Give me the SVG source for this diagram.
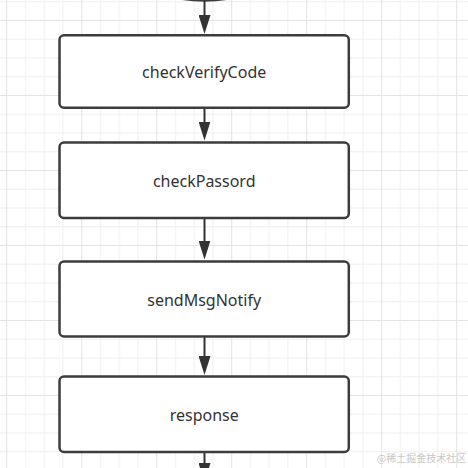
<svg xmlns="http://www.w3.org/2000/svg" width="468" height="468" viewBox="0 0 468 468">
<style>
.node rect{fill:#fff;stroke:#3c3c3c;stroke-width:2.5}
.node text{font-family:"Noto Sans","Liberation Sans",sans-serif;font-size:16px;fill:#333;text-anchor:middle}
.conn line{stroke:#333;stroke-width:2;marker-end:url(#arr)}
.wm{font-family:"Noto Sans CJK SC","Noto Sans",sans-serif;font-size:10px;fill:#c8c8c8}
</style>
<defs>
<pattern id="grid" x="6.2" y="19.95" width="75" height="75" patternUnits="userSpaceOnUse">
<g stroke="#efefef" stroke-width="1">
<line x1="19.25" y1="0" x2="19.25" y2="75"/>
<line x1="38" y1="0" x2="38" y2="75"/>
<line x1="56.75" y1="0" x2="56.75" y2="75"/>
<line x1="0" y1="19.25" x2="75" y2="19.25"/>
<line x1="0" y1="38" x2="75" y2="38"/>
<line x1="0" y1="56.75" x2="75" y2="56.75"/>
</g>
<g stroke="#e3e3e3" stroke-width="1">
<line x1="0.5" y1="0" x2="0.5" y2="75"/>
<line x1="0" y1="0.5" x2="75" y2="0.5"/>
</g>
</pattern>
<marker id="arr" markerUnits="userSpaceOnUse" markerWidth="19" markerHeight="12" viewBox="0 0 19 12" refX="8" refY="6" orient="auto">
<path d="M0 0 L19 6 L0 12 Z" fill="#333"/>
</marker>
</defs>
<rect width="468" height="468" fill="#fff"/>
<rect width="468" height="468" fill="url(#grid)"/>
<g id="start">
<path d="M178 -2 Q204.5 3 231 -2" fill="#fff" stroke="#3c3c3c" stroke-width="2.5"/>
</g>
<g class="conn" id="connectors">
<line x1="204.5" y1="1" x2="204.5" y2="23"/>
<line x1="204.5" y1="108" x2="204.5" y2="129.5"/>
<line x1="204.5" y1="219" x2="204.5" y2="248.5"/>
<line x1="204.5" y1="337" x2="204.5" y2="364"/>
<line x1="204.5" y1="452" x2="204.5" y2="471"/>
</g>
<g class="node" id="checkVerifyCode">
<rect x="59.5" y="35.3" width="289.3" height="72.5" rx="4.5"/>
<text x="204.2" y="78.3">checkVerifyCode</text>
</g>
<g class="node" id="checkPassord">
<rect x="59.5" y="142.5" width="289.3" height="75.5" rx="4.5"/>
<text x="204.2" y="186.7">checkPassord</text>
</g>
<g class="node" id="sendMsgNotify">
<rect x="59.5" y="261.5" width="289.3" height="75" rx="4.5"/>
<text x="204.2" y="306">sendMsgNotify</text>
</g>
<g class="node" id="response">
<rect x="59.5" y="376.5" width="289.3" height="75.5" rx="4.5"/>
<text x="204.2" y="420.7">response</text>
</g>
<text class="wm" x="376.7" y="461.7">@稀土掘金技术社区</text>
</svg>
